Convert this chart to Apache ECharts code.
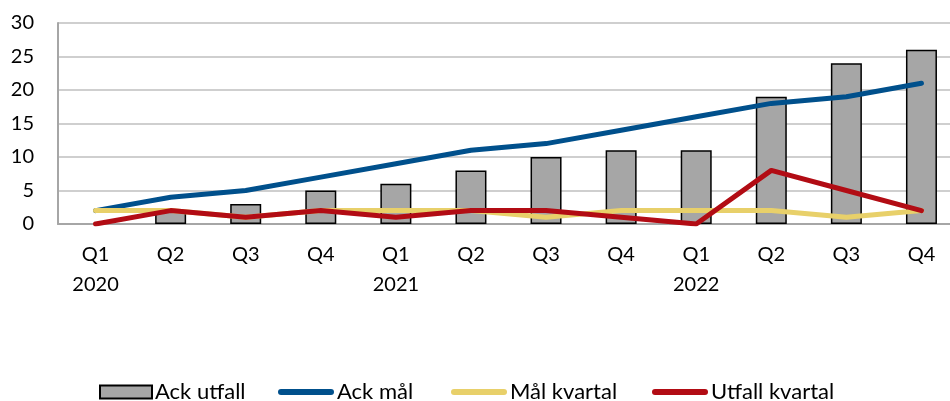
<!DOCTYPE html>
<html><head><meta charset="utf-8">
<script src="https://cdn.jsdelivr.net/npm/echarts@6/dist/echarts.min.js"></script>
<style>html,body{margin:0;padding:0;background:#fff;overflow:hidden;width:950px;height:401px}#c{width:959px;height:401px}</style>
</head><body><div id="c"></div>
<script>
const categories = ['Q1\n2020','Q2','Q3','Q4','Q1\n2021','Q2','Q3','Q4','Q1\n2022','Q2','Q3','Q4'];
const ackUtfall = [0,2,3,5,6,8,10,11,11,19,24,26];
const ackMal = [2,4,5,7,9,11,12,14,16,18,19,21];
const malKvartal = [2,2,1,2,2,2,1,2,2,2,1,2];
const utfallKvartal = [0,2,1,2,1,2,2,1,0,8,5,2];
const seriesNames = ['Ack utfall','Ack mål','Mål kvartal','Utfall kvartal'];
const yTicks = {min:0, max:30, interval:5};

const font = 'Lato, Carlito, "Open Sans", sans-serif';
const colors = {bar:'#A6A6A6', blue:'#00508C', yellow:'#E8D06A', red:'#B20C14'};
const chart = echarts.init(document.getElementById('c'), null, {renderer:'canvas'});
const lineSeries = (name, data, color) => ({
  name, type:'line', data, symbol:'none', smooth:false,
  lineStyle:{color, width:5, cap:'round', join:'round'},
  itemStyle:{color}, z:3
});
const capsule = 'path://M3,0 H53 A3,3 0 0 1 53,6 H3 A3,3 0 0 1 3,0 Z';
const legendText = {fontFamily:font, fontSize:22, lineHeight:24, color:'#000', padding:[0,0,0,-2]};
const legendTop = 380;
const lineLegend = (name, left) => ({
  left, top:legendTop, padding:0, itemWidth:56, itemHeight:6, itemGap:0,
  icon:capsule, itemStyle:{borderWidth:0},
  textStyle:legendText, data:[{name, icon:capsule}]
});
const barData = ackUtfall.map(v => v === 0 ? {value:v, itemStyle:{borderWidth:0}} : v);
chart.setOption({
  animation:false,
  textStyle:{fontFamily:font},
  grid:{left:58, right:0, top:23, bottom:177, containLabel:false},
  legend:[
    {left:99, top:legendTop, padding:0, itemWidth:52, itemHeight:13, itemGap:0, textStyle:legendText,
     data:[{name:seriesNames[0], icon:'rect'}]},
    lineLegend(seriesNames[1], 278),
    lineLegend(seriesNames[2], 451),
    lineLegend(seriesNames[3], 652)
  ],
  xAxis:{
    type:'category', data:categories,
    axisLine:{lineStyle:{color:'#A6A6A6', width:2}},
    axisTick:{show:false},
    axisLabel:{fontFamily:font, fontSize:20, color:'#000', lineHeight:30, margin:16, interval:0}
  },
  yAxis:{
    type:'value', min:yTicks.min, max:yTicks.max, interval:yTicks.interval,
    axisLine:{show:true, lineStyle:{color:'#A6A6A6', width:2}},
    axisTick:{show:false},
    splitLine:{lineStyle:{color:'#BFBFBF', width:1.5}},
    axisLabel:{fontFamily:font, fontSize:20, color:'#000', margin:24}
  },
  series:[
    {name:seriesNames[0], type:'bar', data:barData, barWidth:31,
     itemStyle:{color:colors.bar, borderColor:'#000', borderWidth:1.5}, z:2},
    lineSeries(seriesNames[1], ackMal, colors.blue),
    lineSeries(seriesNames[2], malKvartal, colors.yellow),
    lineSeries(seriesNames[3], utfallKvartal, colors.red)
  ]
});
</script></body></html>
